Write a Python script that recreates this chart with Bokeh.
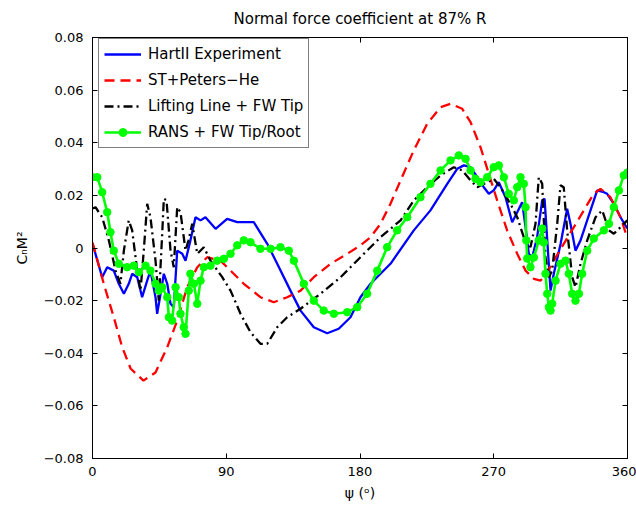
from bokeh.plotting import figure
from bokeh.models import (Range1d, FixedTicker, LinearAxis, Legend, LegendItem,
                          CustomLabelingPolicy)
from bokeh.embed import file_html
from bokeh.resources import INLINE

# ---------------- data ----------------
TITLE = "Normal force coefficient at 87% R"
x_ticks = [0, 90, 180, 270, 360]
y_ticks = [-0.08, -0.06, -0.04, -0.02, 0, 0.02, 0.04, 0.06, 0.08]
y_tick_labels = ["\u22120.08", "\u22120.06", "\u22120.04", "\u22120.02", "0",
                 "0.02", "0.04", "0.06", "0.08"]

hart_psi = [0, 6.5, 9.9, 14.3, 17.7, 21.1, 24.4, 26.7, 30.1, 33.4, 36.8, 39.0, 42.4, 43.5,
            45.8, 48.0, 50.3, 52.5, 54.7, 57.0, 60.4, 62.6, 65.9, 69.3, 72.7, 76.0, 82.8,
            90.6, 97.4, 108.5, 117.6, 124.3, 133.2, 140.0, 148.9, 157.9, 165.7, 173.6,
            180.3, 187.1, 200.5, 216.2, 227.4, 238.7, 245.4, 249.9, 254.4, 258.9, 263.3,
            266.7, 270.0, 273.4, 277.9, 282.4, 285.8, 289.1, 291.4, 293.6, 295.9, 299.2,
            302.6, 304.2, 306.0, 308.2, 310.4, 315.0, 319.4, 321.6, 325.0, 328.4, 335.1,
            339.6, 344.1, 346.3, 350.8, 355.3, 359.8]
hart_cn = [0.0017, -0.0111, -0.0073, -0.0086, -0.0136, -0.0174, -0.0136, -0.0098, -0.0111,
           -0.0187, -0.0124, -0.0086, -0.0187, -0.0250, -0.0174, -0.0098, -0.0136, -0.0212,
           -0.0225, -0.0010, -0.0022, -0.0048, 0.0029, 0.0117, 0.0105, 0.0117, 0.0073,
           0.0111, 0.0098, 0.0098, 0.0016, -0.0060, -0.0162, -0.0238, -0.0301, -0.0324,
           -0.0307, -0.0263, -0.0187, -0.0136, -0.0060, 0.0067, 0.0143, 0.0244, 0.0301,
           0.0314, 0.0307, 0.0269, 0.0231, 0.0206, 0.0219, 0.0250, 0.0193, 0.0098, 0.0136,
           0.0174, 0.0079, -0.0022, -0.0035, 0.0041, 0.0181, 0.0187, 0.0029, -0.0162,
           -0.0098, 0.0016, 0.0149, 0.0092, -0.0010, 0.0029, 0.0143, 0.0219, 0.0212,
           0.0206, 0.0168, 0.0117, 0.0074]

st_psi = [0, 7.6, 14.3, 20.0, 25.6, 34.3, 42.4, 50.3, 57.0, 63.7, 70.5, 77.2, 86.1, 92.9,
          101.8, 113.0, 122.0, 131.0, 140.0, 148.9, 160.2, 171.4, 180.3, 187.1, 193.8,
          200.5, 207.3, 216.2, 225.2, 234.2, 240.9, 248.8, 254.4, 261.1, 266.7, 272.3,
          279.0, 285.8, 291.4, 297.0, 301.5, 306.0, 310.4, 317.1, 323.9, 330.6, 337.3,
          341.8, 348.5, 355.3, 360.0]
st_cn = [0.0021, -0.0136, -0.0263, -0.0377, -0.0458, -0.0504, -0.0473, -0.0377, -0.0276,
         -0.0149, -0.0073, -0.0035, -0.0048, -0.0086, -0.0136, -0.0187, -0.0206, -0.0187,
         -0.0162, -0.0111, -0.0060, -0.0022, 0.0010, 0.0041, 0.0092, 0.0168, 0.0257,
         0.0371, 0.0472, 0.0535, 0.0548, 0.0529, 0.0478, 0.0383, 0.0282, 0.0181, 0.0067,
         -0.0022, -0.0086, -0.0117, -0.0124, -0.0092, -0.0048, 0.0016, 0.0079, 0.0143,
         0.0206, 0.0225, 0.0193, 0.0117, 0.0036]

ll_psi = [0, 2.0, 6.5, 11.0, 15.5, 18.8, 21.1, 24.4, 26.7, 30.1, 32.3, 34.5, 36.8, 39.0,
          42.4, 44.6, 46.9, 48.0, 49.8, 52.5, 54.7, 57.0, 59.2, 62.6, 64.6, 67.1, 70.5,
          74.9, 79.4, 87.3, 92.9, 99.6, 106.3, 113.0, 117.6, 124.3, 131.0, 140.0, 153.4,
          166.9, 180.3, 193.8, 207.3, 216.2, 225.2, 234.2, 243.1, 248.8, 254.4, 258.9,
          265.6, 270.0, 274.5, 281.2, 285.8, 290.2, 294.7, 298.1, 300.3, 302.6, 304.8,
          307.1, 309.3, 312.7, 314.9, 317.1, 319.4, 322.8, 325.0, 328.4, 332.9, 338.5,
          343.0, 347.5, 350.8, 355.3, 359.8]
ll_cn = [0.0150, 0.0155, 0.0117, 0.0029, -0.0086, -0.0136, -0.0010, 0.0105, 0.0067,
         -0.0086, -0.0162, -0.0010, 0.0168, 0.0117, -0.0048, -0.0200, 0.0054, 0.0187,
         0.0181, -0.0010, -0.0073, 0.0155, 0.0136, -0.0010, 0.0029, 0.0092, -0.0022,
         0.0003, -0.0048, -0.0111, -0.0162, -0.0250, -0.0320, -0.0364, -0.0364, -0.0301,
         -0.0263, -0.0231, -0.0174, -0.0111, -0.0035, 0.0041, 0.0105, 0.0181, 0.0231,
         0.0276, 0.0307, 0.0295, 0.0257, 0.0231, 0.0250, 0.0263, 0.0231, 0.0168, 0.0117,
         0.0041, 0.0003, 0.0092, 0.0269, 0.0244, -0.0035, -0.0111, -0.0086, 0.0092,
         0.0238, 0.0231, 0.0067, -0.0111, -0.0149, -0.0060, 0.0029, 0.0117, 0.0143,
         0.0067, 0.0054, 0.0079, 0.0105]

rans_psi = [0, 3.2, 6.5, 9.9, 12.1, 14.3, 17.7, 23.3, 27.8, 31.2, 35.7, 39.0, 42.4, 44.6,
            46.9, 50.3, 51.4, 53.6, 55.9, 58.1, 59.2, 61.4, 62.6, 64.8, 65.9, 68.2, 70.5,
            72.7, 74.9, 79.4, 83.9, 88.4, 92.9, 97.4, 101.8, 106.3, 113.0, 119.8, 126.5,
            132.1, 135.5, 142.2, 148.9, 155.6, 162.4, 171.4, 178.1, 184.8, 191.6, 198.3,
            205.0, 211.8, 220.7, 227.4, 234.2, 240.9, 246.5, 251.0, 254.4, 257.7, 261.1,
            265.6, 270.0, 273.4, 276.8, 280.1, 283.5, 285.8, 288.0, 290.2, 291.4, 291.9,
            292.5, 294.7, 297.0, 300.3, 302.6, 303.7, 304.8, 306.0, 307.1, 308.2, 309.3,
            311.6, 314.9, 318.3, 320.5, 322.8, 325.0, 327.3, 329.5, 332.9, 337.3, 344.1,
            347.5, 350.8, 354.2, 357.5, 360.0]
rans_cn = [0.0269, 0.0269, 0.0212, 0.0136, 0.0060, -0.0010, -0.0060, -0.0073, -0.0067,
           -0.0092, -0.0067, -0.0086, -0.0136, -0.0162, -0.0149, -0.0187, -0.0263, -0.0276,
           -0.0149, -0.0187, -0.0250, -0.0301, -0.0326, -0.0162, -0.0098, -0.0136, -0.0212,
           -0.0124, -0.0073, -0.0067, -0.0048, -0.0041, -0.0022, 0.0010, 0.0029, 0.0022,
           -0.0003, -0.0003, 0.0003, -0.0010, -0.0048, -0.0136, -0.0200, -0.0238, -0.0250,
           -0.0244, -0.0225, -0.0174, -0.0086, 0.0003, 0.0067, 0.0117, 0.0193, 0.0244,
           0.0295, 0.0333, 0.0352, 0.0339, 0.0295, 0.0263, 0.0250, 0.0269, 0.0307, 0.0314,
           0.0269, 0.0206, 0.0181, 0.0231, 0.0269, 0.0244, 0.0155, 0.0029, -0.0040,
           -0.0073, -0.0036, 0.0029, 0.0074, 0.0021, -0.0098, -0.0174, -0.0225, -0.0238,
           -0.0212, -0.0124, -0.0060, -0.0048, -0.0098, -0.0174, -0.0200, -0.0174, -0.0098,
           -0.0010, 0.0036, 0.0067, 0.0092, 0.0155, 0.0219, 0.0276, 0.0287]

labels = ["HartII Experiment", "ST+Peters\u2212He", "Lifting Line + FW Tip",
          "RANS + FW Tip/Root"]

# ---------------- figure ----------------
FONT = "DejaVu Sans"

p = figure(width=636, height=505, output_backend="svg", toolbar_location=None,
           x_range=Range1d(0, 360), y_range=Range1d(-0.08, 0.08),
           min_border_left=92, min_border_right=9, min_border_top=37,
           min_border_bottom=47, title=TITLE)
p.background_fill_color = "white"
p.border_fill_color = "white"
p.outline_line_color = "black"
p.outline_line_width = 1
p.grid.visible = False

p.title.align = "center"
p.title.text_font = FONT
p.title.text_font_size = "15px"
p.title.text_font_style = "normal"
p.title.text_color = "black"
p.title.standoff = 12

for ax in (p.xaxis[0], p.yaxis[0]):
    ax.major_tick_in = 5
    ax.major_tick_out = 0
    ax.minor_tick_line_color = None
    ax.axis_line_color = "black"
    ax.major_tick_line_color = "black"
    ax.major_label_text_font = FONT
    ax.major_label_text_font_size = "13px"
    ax.major_label_text_color = "black"
    ax.axis_label_text_font = FONT
    ax.axis_label_text_font_size = "14px"
    ax.axis_label_text_font_style = "normal"
    ax.axis_label_text_color = "black"

p.xaxis.ticker = FixedTicker(ticks=x_ticks)
p.yaxis.ticker = FixedTicker(ticks=y_ticks)
p.yaxis.major_label_overrides = dict(zip(y_ticks, y_tick_labels))
p.xaxis.major_label_standoff = 8
p.yaxis.major_label_standoff = 9
p.xaxis.axis_label = "\u03c8 (\u1d52)"
p.yaxis.axis_label = "C\u2099M\u00b2"
p.xaxis.axis_label_standoff = 6
p.yaxis.axis_label_standoff = 11

# box ticks on the top and right edges (no labels drawn there)
no_labels = "return new Set()"
top = LinearAxis(ticker=FixedTicker(ticks=x_ticks), major_tick_in=5, major_tick_out=0,
                 minor_tick_line_color=None, major_label_text_font_size="1px",
                 major_label_standoff=0, axis_line_color="black",
                 major_label_policy=CustomLabelingPolicy(code=no_labels))
right = LinearAxis(ticker=FixedTicker(ticks=y_ticks), major_tick_in=5, major_tick_out=0,
                   minor_tick_line_color=None, major_label_text_font_size="1px",
                   major_label_standoff=0, axis_line_color="black",
                   major_label_policy=CustomLabelingPolicy(code=no_labels))
p.add_layout(top, "above")
p.add_layout(right, "right")

r1 = p.line(hart_psi, hart_cn, line_color="#0000ff", line_width=2.3)
r2 = p.line(st_psi, st_cn, line_color="#ff0000", line_width=2.3, line_dash="10 6")
r3 = p.line(ll_psi, ll_cn, line_color="black", line_width=2.3, line_dash="9 4 2 4")
r4 = p.line(rans_psi, rans_cn, line_color="#00ff00", line_width=2.6)
r5 = p.scatter(rans_psi, rans_cn, marker="circle", size=7.5, fill_color="#00ff00",
               line_color="#00ff00")

legend = Legend(items=[LegendItem(label=labels[0], renderers=[r1]),
                       LegendItem(label=labels[1], renderers=[r2]),
                       LegendItem(label=labels[2], renderers=[r3]),
                       LegendItem(label=labels[3], renderers=[r4, r5])],
                location=(6, 310))
legend.padding = 5
legend.spacing = 6
legend.glyph_width = 37
legend.glyph_height = 20
legend.label_height = 20
legend.label_standoff = 7
legend.label_text_font = FONT
legend.label_text_font_size = "15px"
legend.label_text_color = "black"
legend.border_line_color = "black"
legend.border_line_width = 1
legend.background_fill_color = "white"
legend.background_fill_alpha = 1
p.add_layout(legend, "center")

open("out.html", "w").write(file_html(p, INLINE))
